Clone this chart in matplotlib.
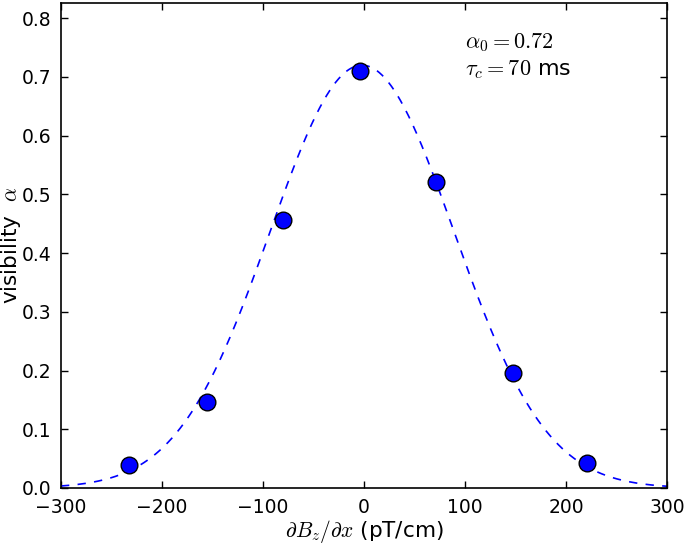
import numpy as np
import matplotlib
matplotlib.use("Agg")
import matplotlib.pyplot as plt

plt.rcParams['mathtext.fontset'] = 'cm'
plt.rcParams['font.family'] = ['DejaVu Sans']

# measured data
gradient = [-233, -155, -80, -4, 71, 147, 221]
visibility = [0.039, 0.146, 0.456, 0.711, 0.521, 0.196, 0.043]

# fitted Gaussian model parameters
alpha0 = 0.72
center = -2.0
sigma = 91.0
x_fit = np.linspace(-300, 300, 601)
y_fit = alpha0 * np.exp(-(x_fit - center) ** 2 / (2 * sigma ** 2))

xticks = [-300, -200, -100, 0, 100, 200, 300]
yticks = [0.0, 0.1, 0.2, 0.3, 0.4, 0.5, 0.6, 0.7, 0.8]

fig = plt.figure(figsize=(6.85, 5.44), dpi=100)
ax = fig.add_axes([0.089, 0.103, 0.885, 0.8915])

ax.plot(x_fit, y_fit, '--', color='blue', lw=1.2, dashes=(5, 5))
ax.plot(gradient, visibility, 'o', color='blue', markeredgecolor='black',
        markeredgewidth=1.0, markersize=12)

ax.set_xlim(-300, 300)
ax.set_ylim(0, 0.826)
ax.set_xticks(xticks)
ax.set_yticks(yticks)
ax.set_xticklabels(['\u2212300', '\u2212200', '\u2212100', '0', '100', '200', '300'])
ax.set_yticklabels([f'{v:.1f}' for v in yticks])
ax.tick_params(direction='in', top=True, right=True, length=5, width=1,
               labelsize=13.5, pad=7)
for s in ax.spines.values():
    s.set_linewidth(1.2)

ax.set_xlabel(r'$\partial B_z/\partial x$ (pT/cm)', fontsize=15.5, labelpad=1)
ax.set_ylabel(r'visibility  $\alpha$', fontsize=15.5)
ax.yaxis.set_label_coords(-0.062, 0.5)

ax.text(0.667, 0.907, r'$\alpha_0=0.72$', transform=ax.transAxes, fontsize=16,
        va='baseline')
ax.text(0.667, 0.852, r'$\tau_c=70$ ms', transform=ax.transAxes, fontsize=16,
        va='baseline')

fig.savefig('out.png', dpi=100)
